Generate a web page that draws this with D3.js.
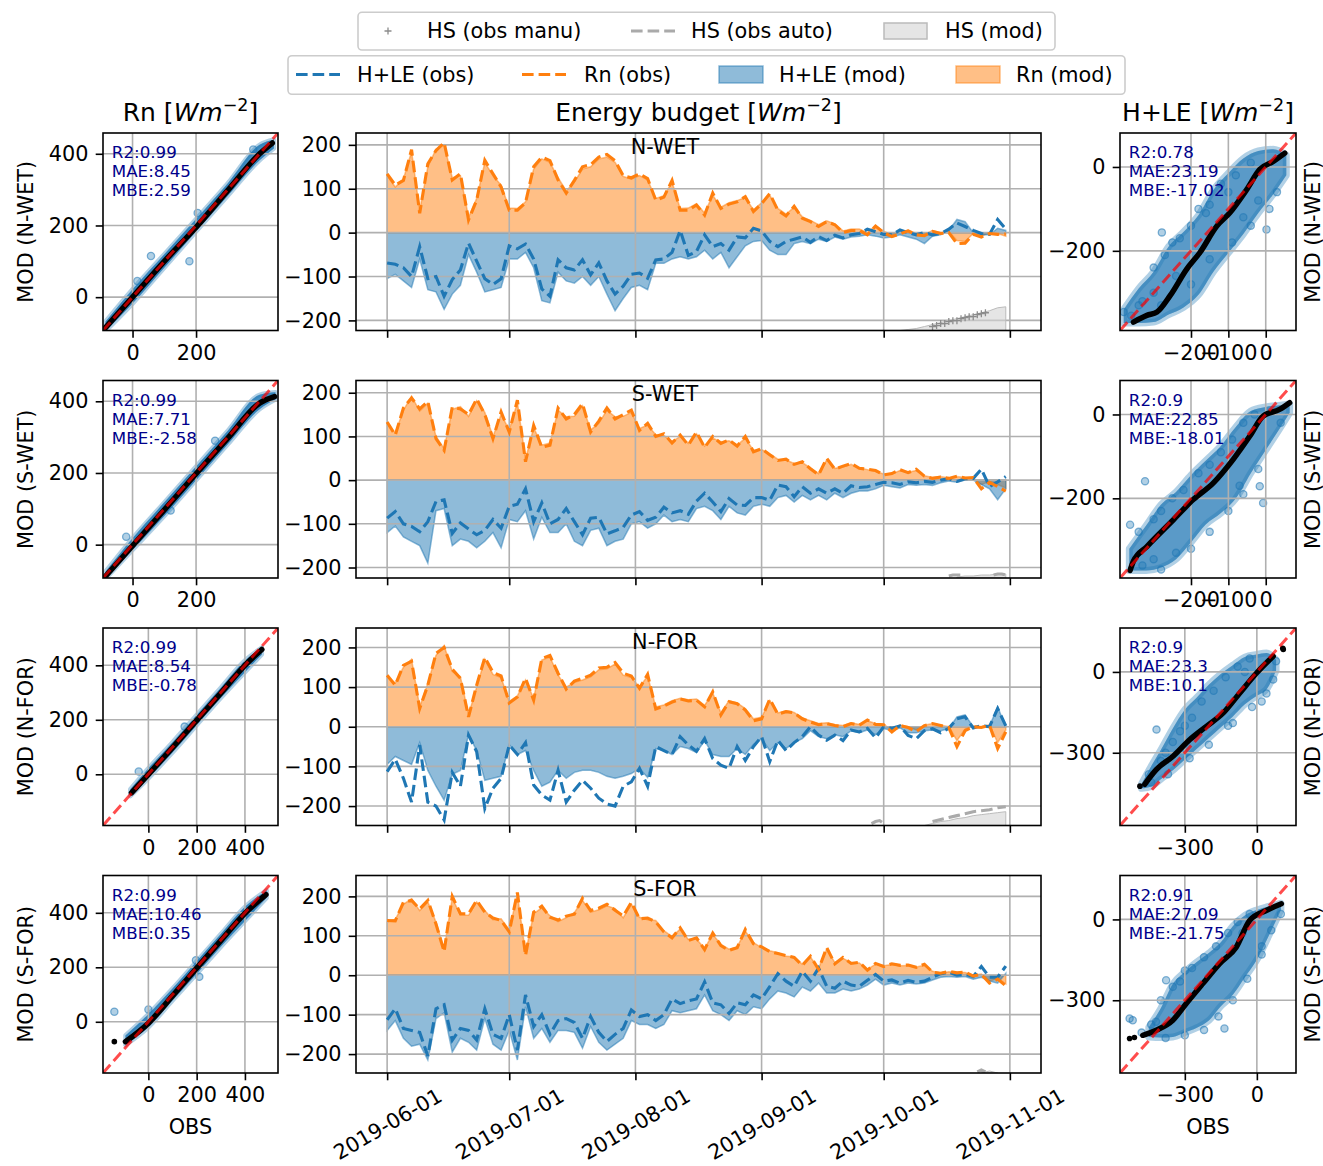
<!DOCTYPE html>
<html>
<head>
<meta charset="utf-8">
<script src="https://cdn.jsdelivr.net/npm/d3@7/dist/d3.min.js"></script>
<style>
html,body{margin:0;padding:0;background:#fff;}
svg{display:block;}
text{font-family:"DejaVu Sans",sans-serif;}
</style>
</head>
<body>
<svg id="chart" width="1323" height="1166" xmlns="http://www.w3.org/2000/svg"></svg>
<script>
// ================= DATA =================
const sites = ["N-WET","S-WET","N-FOR","S-FOR"];
const startDate = "2019-06-01";
const stepDays = 2;
const dateTicks = ["2019-06-01","2019-07-01","2019-08-01","2019-09-01","2019-10-01","2019-11-01"];
const budgetTicks = [-200,-100,0,100,200];
const rnYTicks = [0,200,400];
const rnXTicks = [[0,200],[0,200],[0,200,400],[0,200,400]];
const hleXTicks = [[-200,-100,0],[-200,-100,0],[-300,0],[-300,0]];
const hleYTicks = [[-200,0],[-200,0],[-300,0],[-300,0]];
const legendTop = ["HS (obs manu)","HS (obs auto)","HS (mod)"];
const legendBottom = ["H+LE (obs)","Rn (obs)","H+LE (mod)","Rn (mod)"];

// series (one value every 2 days from 2019-06-01)
const rnObsNW = [134,108,119,189,44,157,187,205,120,134,29,74,165,134,104,51,51,68,150,172,164,120,90,119,150,155,172,178,164,130,125,134,123,74,81,119,51,51,63,40,90,55,65,70,82,48,66,89,51,38,60,33,25,14,25,18,0,5,5,-5,15,0,-9,-3,4,-5,-7,3,-2,0,-25,-24,-4,-10,-2,-4,-3];
const rnModNW = [130,104,122,185,50,150,190,200,125,130,35,78,160,130,108,56,55,70,145,168,160,125,95,115,145,150,168,172,160,128,122,130,120,78,84,115,55,56,66,45,85,58,68,73,80,52,68,85,55,42,58,36,28,18,27,20,4,8,8,0,16,3,-5,0,6,-2,-4,5,0,2,-18,-20,-2,-8,0,-2,-8];
const hleObsNW = [-69,-72,-80,-100,-32,-105,-100,-145,-107,-85,-24,-65,-105,-118,-105,-30,-37,-26,-60,-128,-145,-62,-80,-85,-62,-96,-69,-110,-140,-122,-95,-92,-104,-62,-60,-45,5,-52,-43,-5,-32,-25,-40,-10,-12,10,4,-20,-32,-20,-15,-10,-22,-9,-18,-6,-12,-5,-2,8,2,-4,-5,6,0,-5,0,-5,-2,8,22,14,5,-2,-4,30,8];
const hleModNW = [-105,-95,-110,-125,-60,-130,-135,-175,-140,-120,-50,-90,-135,-130,-125,-60,-60,-45,-80,-155,-160,-90,-110,-115,-100,-120,-100,-140,-178,-150,-125,-120,-130,-70,-70,-60,-55,-60,-55,-40,-60,-45,-80,-55,-30,-20,-18,-40,-50,-50,-25,-20,-25,-15,-20,-10,-15,-10,-8,-5,-8,-12,-10,-5,-10,-15,-25,-8,-5,5,30,25,0,-5,-5,10,5];

const rnObsSW = [133,103,165,188,163,180,95,68,167,163,150,186,150,95,156,110,183,42,125,75,80,165,140,150,175,110,135,165,140,150,160,114,130,100,106,85,103,80,110,75,100,84,92,78,100,65,72,58,45,48,36,42,26,12,50,25,32,38,27,25,22,12,15,24,17,25,9,4,7,4,9,5,6,-20,-5,-15,-25];
const rnModSW = [128,108,160,192,158,176,100,72,162,168,146,182,155,100,150,115,178,48,120,80,85,160,145,146,170,115,130,160,145,146,155,118,126,104,102,88,100,84,106,78,96,88,90,80,96,68,70,60,48,46,38,40,28,15,46,27,30,36,28,24,20,14,14,22,18,22,10,6,8,5,8,6,4,-10,-3,-10,-18];
const hleObsSW = [-87,-72,-100,-106,-118,-95,-49,-45,-122,-98,-112,-125,-115,-90,-110,-60,-55,-20,-95,-52,-100,-90,-65,-95,-125,-87,-85,-123,-116,-108,-80,-72,-92,-85,-62,-75,-70,-78,-48,-30,-50,-72,-42,-57,-58,-40,-40,-46,-11,-15,-38,-15,-30,-20,-30,-20,-30,-13,-17,-15,-10,-5,-6,-10,-4,-6,-3,-5,0,3,-3,3,4,25,-15,-4,8];
const hleModSW = [-120,-105,-130,-140,-150,-190,-70,-65,-150,-135,-140,-155,-140,-120,-155,-90,-95,-70,-135,-85,-120,-120,-100,-140,-150,-115,-110,-150,-140,-135,-100,-95,-110,-100,-80,-95,-90,-95,-65,-60,-70,-90,-60,-75,-80,-60,-55,-60,-40,-35,-50,-35,-45,-35,-45,-30,-40,-30,-25,-25,-20,-12,-15,-18,-10,-12,-10,-12,-6,-2,-5,0,0,-10,-20,-45,-20];

const rnObsNF = [130,105,155,165,46,105,185,200,145,122,25,105,175,137,128,60,75,122,67,172,180,135,95,115,122,130,148,150,162,135,128,97,132,45,52,62,70,65,67,50,88,30,63,58,42,15,20,70,32,38,35,20,12,5,8,3,0,8,4,17,6,5,-13,3,-2,-12,3,8,3,-2,-50,-10,0,-2,4,-55,-13];
const rnModNF = [125,110,150,170,50,110,180,205,140,126,30,100,170,132,124,64,78,118,72,168,176,130,100,112,118,126,144,146,158,130,124,100,128,50,55,66,72,68,70,54,85,35,66,60,46,20,24,66,35,40,36,22,15,8,10,5,3,10,6,15,8,6,-8,5,0,-8,4,8,4,0,-35,-6,2,0,5,-40,-8];
const hleObsNF = [-113,-82,-130,-190,-46,-190,-200,-235,-115,-150,-21,-63,-206,-155,-130,-46,-70,-40,-147,-172,-185,-110,-190,-160,-135,-155,-180,-195,-200,-150,-139,-105,-150,-50,-60,-70,-25,-46,-62,-30,-80,-97,-105,-50,-85,-50,-25,-88,-34,-60,-40,-25,0,-21,-34,-21,-35,-8,-13,-4,-28,0,-4,2,-22,-30,-10,-5,-15,-4,20,25,-3,3,0,46,2];
const hleModNF = [-95,-75,-85,-95,-40,-110,-150,-185,-120,-110,-20,-60,-135,-130,-125,-45,-70,-60,-110,-150,-140,-110,-130,-115,-110,-110,-115,-125,-130,-125,-118,-105,-128,-55,-60,-70,-50,-55,-65,-35,-70,-75,-75,-55,-70,-45,-30,-60,-40,-55,-40,-30,-10,-25,-30,-20,-25,-10,-15,-8,-20,-5,-8,-3,-15,-15,-10,-8,-10,-5,25,30,0,0,2,50,0];

const rnObsSF = [139,138,185,190,168,190,130,60,200,156,156,190,160,145,139,110,210,50,160,175,147,140,150,155,195,164,170,180,165,150,185,143,145,135,110,95,120,88,95,65,107,75,63,70,116,80,72,60,55,50,45,25,48,15,70,29,45,30,33,13,30,22,29,25,26,20,28,8,5,10,6,8,-2,2,-20,-10,-27];
const rnModSF = [135,142,180,194,164,186,135,66,196,152,152,186,164,141,143,115,205,56,156,171,151,136,146,159,190,160,166,176,169,146,180,147,141,139,113,98,117,91,92,68,104,78,66,72,112,83,70,62,57,48,47,28,46,18,66,32,43,32,31,15,28,24,27,24,25,21,25,10,6,9,7,7,0,3,-15,-8,-22];
const hleObsSF = [-113,-85,-135,-140,-145,-205,-85,-75,-165,-135,-140,-164,-85,-150,-160,-100,-190,-50,-130,-100,-150,-115,-110,-120,-160,-105,-145,-168,-150,-135,-88,-105,-100,-115,-100,-60,-72,-65,-60,-17,-70,-75,-97,-70,-75,-50,-60,-29,4,-15,-28,10,-15,18,-28,-33,-15,-25,-28,-13,2,-15,-12,-20,-13,-18,-15,-5,4,8,0,2,-3,22,-5,-5,23];
const hleModSF = [-140,-115,-160,-180,-175,-215,-110,-95,-195,-160,-170,-190,-110,-175,-190,-140,-215,-80,-160,-135,-170,-140,-140,-145,-185,-130,-170,-190,-175,-160,-115,-125,-125,-135,-125,-90,-95,-90,-85,-50,-90,-100,-115,-90,-100,-80,-85,-60,-40,-45,-55,-30,-40,-20,-45,-45,-35,-40,-35,-25,-10,-25,-20,-25,-20,-22,-20,-12,-5,-3,-5,-3,-10,-5,-15,-20,5];

// snow height (cm, hidden twin axis), day offsets from start date
const hsModDaysNW = [126,128,130,132,134,136,138,140,142,144,146,148,150,152];
const hsModNW     = [0,1,2,4,6,8,10,12,14,16,18,20,23,24];
const hsManuDaysNW = [134,135,136,137,138,139,140,141,142,143,144,145,146,147];
const hsManuNW     = [4,5,7,7,9,10,10,12,13,14,14,16,17,18];
const hsAutoDaysNW = [];
const hsAutoNW     = [];
const hsModDaysSW = [140,142,144,146,148,150,152];
const hsModSW     = [1,2,2,3,3,4,4];
const hsAutoDaysSW = [138,139,140,141,142,143,149,150,151,152];
const hsAutoSW     = [2,3,3,3,2,null,3,4,4,3];
const hsManuDaysSW = [];
const hsManuSW     = [];
const hsModDaysNF = [132,134,136,138,140,142,144,146,148,150,152];
const hsModNF     = [0,2,4,5,7,8,10,11,12,13,14];
const hsAutoDaysNF = [119,120,121,122,123,134,136,138,140,142,144,146,148,150,152];
const hsAutoNF     = [2,4,5,2,null,4,6,8,10,12,14,15,16,18,19];
const hsManuDaysNF = [];
const hsManuNF     = [];
const hsModDaysSF = [146,148,150];
const hsModSF     = [0,2,0];
const hsAutoDaysSF = [145,146,147];
const hsAutoSF     = [1,3,1];
const hsManuDaysSF = [];
const hsManuSF     = [];

// scatter: Rn (obs vs mod) – cloud envelope, quantile line, isolated points
const rnEnvXNW = [-85,0,100,200,300,400,445];
const rnEnvLoNW = [-95,-18,82,183,283,382,415];
const rnEnvHiNW = [-68,22,120,218,318,425,440];
const rnQQNW = [[-85,-85],[0,0],[100,100],[200,195],[300,298],[400,400],[440,430]];
const rnOutNW = [[58,115],[179,100],[15,45],[205,235],[380,412]];
const rnLoneNW = [];
const rnEnvXSW = [-85,0,100,200,300,400,450];
const rnEnvLoSW = [-95,-15,80,180,280,378,405];
const rnEnvHiSW = [-75,18,118,218,318,418,425];
const rnQQSW = [[-85,-88],[0,-3],[100,97],[200,198],[300,297],[400,395],[447,413]];
const rnOutSW = [[-20,22],[260,290],[120,95]];
const rnLoneSW = [];
const rnEnvXNF = [-75,0,100,200,300,400,470];
const rnEnvLoNF = [-80,-15,80,180,280,375,440];
const rnEnvHiNF = [-55,22,118,218,318,418,465];
const rnQQNF = [[-70,-68],[0,0],[100,98],[200,198],[300,298],[400,400],[470,458]];
const rnOutNF = [[-40,10],[150,175]];
const rnLoneNF = [];
const rnEnvXSF = [-95,0,100,200,300,400,490];
const rnEnvLoSF = [-85,-20,78,175,275,370,455];
const rnEnvHiSF = [-50,28,122,222,322,422,482];
const rnQQSF = [[-95,-73],[0,-5],[100,95],[200,197],[300,298],[400,398],[487,467]];
const rnOutSF = [[-141,37],[197,226],[211,165],[0,45]];
const rnLoneSF = [[-141,-73]];

// scatter: H+LE
const hleEnvXNW = [-380,-340,-300,-260,-220,-180,-140,-100,-60,-20,20,55];
const hleEnvLoNW = [-372,-372,-370,-352,-335,-305,-250,-205,-160,-110,-65,-20];
const hleEnvHiNW = [-340,-290,-250,-190,-155,-115,-55,-15,20,38,42,28];
const hleQQNW = [[-354,-370],[-318,-354],[-291,-346],[-256,-307],[-211,-243],[-176,-204],[-131,-141],[-96,-109],[-51,-54],[-16,-6],[20,13],[51,33]];
const hleOutNW = [[-380,-346],[-278,-156],[2,-149],[-240,-260],[-150,-90],[-60,-120],[-330,-320],[-20,-80],[-300,-240],[-270,-210],[-250,-180],[-230,-170],[-200,-140],[-180,-100],[-160,-110],[-120,-40],[-100,-60],[-80,-20],[-40,10],[10,-100],[30,-60],[-300,-300],[-340,-330],[-360,-355],[-280,-330],[-200,-280],[-150,-220],[-90,-180],[-40,-140]];
const hleLoneNW = [];
const hleEnvXSW = [-365,-320,-280,-240,-200,-160,-120,-80,-40,0,40,64];
const hleEnvLoSW = [-372,-372,-365,-345,-305,-262,-235,-200,-140,-85,-30,4];
const hleEnvHiSW = [-320,-265,-215,-185,-145,-110,-75,-30,8,18,22,25];
const hleQQSW = [[-363,-372],[-354,-350],[-318,-315],[-247,-251],[-194,-203],[-140,-163],[-87,-107],[-43,-52],[-7,-4],[37,12],[64,28]];
const hleOutSW = [[-363,-263],[-323,-159],[-16,-171],[-7,-211],[-240,-330],[-300,-345],[-100,-230],[-70,-170],[-340,-280],[-300,-250],[-280,-230],[-250,-200],[-220,-180],[-180,-140],[-150,-120],[-120,-90],[-90,-60],[-60,-20],[-30,0],[-330,-360],[-280,-370],[-200,-320],[-150,-280],[-60,-190],[-20,-130],[40,-20]];
const hleLoneSW = [];
const hleEnvXNF = [-480,-440,-400,-350,-300,-250,-200,-150,-100,-50,0,40,80];
const hleEnvLoNF = [-432,-425,-398,-365,-325,-285,-245,-205,-165,-120,-88,-65,5];
const hleEnvHiNF = [-415,-350,-290,-210,-140,-95,-48,-8,25,55,65,70,45];
const hleQQNF = [[-467,-417],[-418,-362],[-349,-313],[-279,-251],[-210,-202],[-140,-152],[-71,-78],[-1,-4],[68,58]];
const hleOutNF = [[-418,-214],[68,-28],[-300,-200],[-120,-200],[-50,0],[-380,-300],[20,-110],[-450,-380],[-400,-330],[-350,-260],[-320,-220],[-270,-170],[-230,-110],[-180,-70],[-130,-20],[-80,20],[-30,50],[-440,-410],[-370,-380],[-280,-320],[-200,-270],[-100,-190],[-20,-130],[40,-80],[80,40]];
const hleLoneNF = [[-487,-424],[110,83],[108,88]];
const hleEnvXSF = [-450,-400,-350,-300,-250,-200,-150,-100,-50,0,50,100];
const hleEnvLoSF = [-436,-438,-436,-420,-402,-375,-322,-280,-215,-150,-60,35];
const hleEnvHiSF = [-400,-330,-240,-195,-158,-125,-85,-25,15,35,48,60];
const hleQQSF = [[-475,-430],[-419,-411],[-350,-374],[-294,-312],[-225,-238],[-155,-164],[-86,-103],[-30,-4],[39,33],[102,58]];
const hleOutSF = [[-530,-368],[-517,-374],[-378,-226],[-135,-405],[-300,-190],[-60,-50],[20,-100],[-420,-380],[-480,-420],[-440,-390],[-400,-300],[-350,-250],[-320,-230],[-270,-180],[-220,-140],[-170,-100],[-120,-50],[-80,-10],[-30,20],[-380,-440],[-300,-430],[-220,-410],[-160,-360],[-100,-300],[-40,-220],[20,-130],[60,-40],[100,20]];
const hleLoneSF = [[-530,-442],[-510,-438]];

const rnStats = [["R2:0.99","MAE:8.45","MBE:2.59"],["R2:0.99","MAE:7.71","MBE:-2.58"],["R2:0.99","MAE:8.54","MBE:-0.78"],["R2:0.99","MAE:10.46","MBE:0.35"]];
const hleStats = [["R2:0.78","MAE:23.19","MBE:-17.02"],["R2:0.9","MAE:22.85","MBE:-18.01"],["R2:0.9","MAE:23.3","MBE:10.1"],["R2:0.91","MAE:27.09","MBE:-21.75"]];

// axis limits
const budgetLims = [[-223,227],[-224,228],[-249,249],[-248,253]];
const rnLims = [[-93,458],[-93,458],[-188,537],[-188,537]];
const hleLims = [[-390,81],[-390,81],[-570,163],[-570,163]];
const hsLim = [0,200];

// ================= BUILD TABLES =================
const seriesTable = [
  {rnObs:rnObsNW, rnMod:rnModNW, hleObs:hleObsNW, hleMod:hleModNW, hsModDays:hsModDaysNW, hsMod:hsModNW, hsAutoDays:hsAutoDaysNW, hsAuto:hsAutoNW, hsManuDays:hsManuDaysNW, hsManu:hsManuNW},
  {rnObs:rnObsSW, rnMod:rnModSW, hleObs:hleObsSW, hleMod:hleModSW, hsModDays:hsModDaysSW, hsMod:hsModSW, hsAutoDays:hsAutoDaysSW, hsAuto:hsAutoSW, hsManuDays:hsManuDaysSW, hsManu:hsManuSW},
  {rnObs:rnObsNF, rnMod:rnModNF, hleObs:hleObsNF, hleMod:hleModNF, hsModDays:hsModDaysNF, hsMod:hsModNF, hsAutoDays:hsAutoDaysNF, hsAuto:hsAutoNF, hsManuDays:hsManuDaysNF, hsManu:hsManuNF},
  {rnObs:rnObsSF, rnMod:rnModSF, hleObs:hleObsSF, hleMod:hleModSF, hsModDays:hsModDaysSF, hsMod:hsModSF, hsAutoDays:hsAutoDaysSF, hsAuto:hsAutoSF, hsManuDays:hsManuDaysSF, hsManu:hsManuSF}
];
const rnScat = [
  {x:rnEnvXNW, lo:rnEnvLoNW, hi:rnEnvHiNW, qq:rnQQNW, out:rnOutNW, lone:rnLoneNW},
  {x:rnEnvXSW, lo:rnEnvLoSW, hi:rnEnvHiSW, qq:rnQQSW, out:rnOutSW, lone:rnLoneSW},
  {x:rnEnvXNF, lo:rnEnvLoNF, hi:rnEnvHiNF, qq:rnQQNF, out:rnOutNF, lone:rnLoneNF},
  {x:rnEnvXSF, lo:rnEnvLoSF, hi:rnEnvHiSF, qq:rnQQSF, out:rnOutSF, lone:rnLoneSF}
];
const hleScat = [
  {x:hleEnvXNW, lo:hleEnvLoNW, hi:hleEnvHiNW, qq:hleQQNW, out:hleOutNW, lone:hleLoneNW},
  {x:hleEnvXSW, lo:hleEnvLoSW, hi:hleEnvHiSW, qq:hleQQSW, out:hleOutSW, lone:hleLoneSW},
  {x:hleEnvXNF, lo:hleEnvLoNF, hi:hleEnvHiNF, qq:hleQQNF, out:hleOutNF, lone:hleLoneNF},
  {x:hleEnvXSF, lo:hleEnvLoSF, hi:hleEnvHiSF, qq:hleQQSF, out:hleOutSF, lone:hleLoneSF}
];

// ================= LAYOUT / STYLE =================
const FS = 20.8, FS_STAT = 16.7, FS_TITLE = 25;
const BLUE = "#1f77b4", ORANGE = "#ff7f0e", GRID = "#b0b0b0";
const rowTop = [133, 380.5, 628, 875.5], rowH = 197.5;
const colL = {x:103, w:175}, colM = {x:356, w:685}, colR = {x:1120, w:176};
const TICK = 7.3, PAD = 7.3, LW = 1.6;

const svg = d3.select("#chart");
const defs = svg.append("defs");
const parseUTC = s => { const [y,m,d] = s.split("-").map(Number); return new Date(Date.UTC(y,m-1,d)); };
const t0 = parseUTC(startDate);
const dayDate = d => new Date(t0.getTime() + d*86400000);
const tickDates = dateTicks.map(parseUTC);
const span = (tickDates[tickDates.length-1] - t0)/86400000;

function styleAxis(sel){
  sel.attr("font-size", FS).attr("font-family", "DejaVu Sans, sans-serif");
  sel.select(".domain").remove();
  sel.selectAll(".tick line").attr("stroke","#000").attr("stroke-width", LW);
  sel.selectAll(".tick text").attr("fill","#000");
}
function clip(id, x, y, w, h){
  defs.append("clipPath").attr("id", id).append("rect").attr("x",x).attr("y",y).attr("width",w).attr("height",h);
  return `url(#${id})`;
}
function grid(g, xs, ys, xt, yt, L, R, T, B){
  g.selectAll(null).data(xt).enter().append("line")
    .attr("x1", d=>xs(d)).attr("x2", d=>xs(d)).attr("y1", T).attr("y2", B)
    .attr("stroke", GRID).attr("stroke-width", LW);
  g.selectAll(null).data(yt).enter().append("line")
    .attr("y1", d=>ys(d)).attr("y2", d=>ys(d)).attr("x1", L).attr("x2", R)
    .attr("stroke", GRID).attr("stroke-width", LW);
}

// ---------- middle: energy budget ----------
function drawMiddle(i){
  const S = seriesTable[i];
  const T = rowTop[i], B = T + rowH, L = colM.x, R = colM.x + colM.w;
  const pad = span*0.05;
  const x = d3.scaleUtc().domain([dayDate(-pad), dayDate(span+pad)]).range([L, R]);
  const y = d3.scaleLinear().domain(budgetLims[i]).range([B, T]);
  const hs = d3.scaleLinear().domain(hsLim).range([B, T]);
  const g = svg.append("g");
  const pg = g.append("g").attr("clip-path", clip("cm"+i, L, T, R-L, rowH));
  const xk = k => x(dayDate(k*stepDays));
  const area = d3.area().x((v,k)=>xk(k)).y0(y(0)).y1(v=>y(v));
  pg.append("path").datum(S.rnMod).attr("d", area)
    .attr("fill", ORANGE).attr("fill-opacity", 0.5).attr("stroke", ORANGE).attr("stroke-opacity", 0.5).attr("stroke-width", 1.5);
  pg.append("path").datum(S.hleMod).attr("d", area)
    .attr("fill", BLUE).attr("fill-opacity", 0.5).attr("stroke", BLUE).attr("stroke-opacity", 0.5).attr("stroke-width", 1.5);
  grid(pg, x, y, tickDates, budgetTicks, L, R, T, B);
  const hsModPts = S.hsModDays.map((d,j)=>[d, S.hsMod[j]]);
  if (hsModPts.length) {
    pg.append("path").datum(hsModPts)
      .attr("d", d3.area().x(d=>x(dayDate(d[0]))).y0(hs(0)).y1(d=>hs(d[1])))
      .attr("fill", "#d3d3d3").attr("fill-opacity", 0.6).attr("stroke", "#bbbbbb").attr("stroke-width", 1);
  }
  const hsAutoPts = S.hsAutoDays.map((d,j)=>[d, S.hsAuto[j]]);
  if (hsAutoPts.length) {
    pg.append("path").datum(hsAutoPts)
      .attr("d", d3.line().defined(d=>d[1]!=null).x(d=>x(dayDate(d[0]))).y(d=>hs(d[1])))
      .attr("fill","none").attr("stroke","#aaaaaa").attr("stroke-width",3.1).attr("stroke-dasharray","11.6,5");
  }
  const hsManuPts = S.hsManuDays.map((d,j)=>[d, S.hsManu[j]]);
  pg.selectAll(null).data(hsManuPts).enter().append("path")
    .attr("d", d=>{const px=x(dayDate(d[0])), py=hs(d[1]); return `M${px-3.5},${py}h7M${px},${py-3.5}v7`;})
    .attr("stroke","#8c8c8c").attr("stroke-width",1.3);
  const line = d3.line().x((v,k)=>xk(k)).y(v=>y(v));
  pg.append("path").datum(S.hleObs).attr("d", line)
    .attr("fill","none").attr("stroke", BLUE).attr("stroke-width",3.1).attr("stroke-dasharray","11.6,5");
  pg.append("path").datum(S.rnObs).attr("d", line)
    .attr("fill","none").attr("stroke", ORANGE).attr("stroke-width",3.1).attr("stroke-dasharray","11.6,5");
  const ay = g.append("g").attr("transform",`translate(${L},0)`)
    .call(d3.axisLeft(y).tickValues(budgetTicks).tickSize(TICK).tickPadding(PAD));
  styleAxis(ay);
  const ax = g.append("g").attr("transform",`translate(0,${B})`)
    .call(d3.axisBottom(x).tickValues(tickDates).tickSize(TICK).tickPadding(PAD).tickFormat(i===3 ? d3.utcFormat("%Y-%m-%d") : ""));
  styleAxis(ax);
  if (i===3) {
    ax.selectAll(".tick text").attr("y",0).attr("dy","0.35em").attr("text-anchor","middle")
      .attr("transform","translate(0,51) rotate(-30)");
  }
  g.append("rect").attr("x",L).attr("y",T).attr("width",R-L).attr("height",rowH)
    .attr("fill","none").attr("stroke","#000").attr("stroke-width",LW);
  g.append("text").attr("x", 665).attr("y", T+20.5).attr("text-anchor","middle")
    .attr("font-size", FS).text(sites[i]);
}

// ---------- scatter ----------
function drawScatter(i, col, lim, xt, yt, data, stats, side, showObs){
  const T = rowTop[i], B = T + rowH, L = col.x, R = col.x + col.w;
  const x = d3.scaleLinear().domain(lim).range([L, R]);
  const y = d3.scaleLinear().domain(lim).range([B, T]);
  const g = svg.append("g");
  const pg = g.append("g").attr("clip-path", clip("cs"+side+i, L, T, R-L, rowH));
  const env = data.x.map((v,j)=>[v, data.lo[j], data.hi[j]]);
  const area = d3.area().x(d=>x(d[0])).y0(d=>y(d[1])).y1(d=>y(d[2])).curve(d3.curveMonotoneX);
  const halo = side==="L" ? 4.5 : 7, core = side==="L" ? 0.75 : 0.6;
  pg.append("path").datum(env).attr("d", area)
    .attr("fill", BLUE).attr("fill-opacity", 0.35).attr("stroke", BLUE).attr("stroke-opacity", 0.35)
    .attr("stroke-width", halo).attr("stroke-linejoin","round");
  pg.append("path").datum(env).attr("d", area)
    .attr("fill", BLUE).attr("fill-opacity", core);
  pg.selectAll(null).data(data.out).enter().append("circle")
    .attr("cx", d=>x(d[0])).attr("cy", d=>y(d[1])).attr("r", 3.6)
    .attr("fill", BLUE).attr("fill-opacity", 0.35).attr("stroke", BLUE).attr("stroke-opacity", 0.55).attr("stroke-width", 1.3);
  grid(pg, x, y, xt, yt, L, R, T, B);
  pg.append("path").datum(data.qq)
    .attr("d", d3.line().x(d=>x(d[0])).y(d=>y(d[1])).curve(d3.curveMonotoneX))
    .attr("fill","none").attr("stroke","#000").attr("stroke-width",5.5)
    .attr("stroke-linecap","round").attr("stroke-linejoin","round");
  pg.selectAll(null).data(data.lone).enter().append("circle")
    .attr("cx", d=>x(d[0])).attr("cy", d=>y(d[1])).attr("r", 2.8).attr("fill","#000");
  pg.append("line").attr("x1", x(lim[0])).attr("y1", y(lim[0])).attr("x2", x(lim[1])).attr("y2", y(lim[1]))
    .attr("stroke","#ff0000").attr("stroke-opacity",0.7).attr("stroke-width",3).attr("stroke-dasharray","11,5");
  const ay = g.append("g").attr("transform",`translate(${L},0)`)
    .call(d3.axisLeft(y).tickValues(yt).tickSize(TICK).tickPadding(PAD));
  styleAxis(ay);
  const ax = g.append("g").attr("transform",`translate(0,${B})`)
    .call(d3.axisBottom(x).tickValues(xt).tickSize(TICK).tickPadding(PAD));
  styleAxis(ax);
  g.append("rect").attr("x",L).attr("y",T).attr("width",R-L).attr("height",rowH)
    .attr("fill","none").attr("stroke","#000").attr("stroke-width",LW);
  const st = g.append("text").attr("x", L+8.8).attr("y", T+25).attr("font-size", FS_STAT).attr("fill","#00008b");
  stats.forEach((s,j)=> st.append("tspan").attr("x", L+8.8).attr("dy", j===0?0:19.2).text(s));
  const lx = side==="L" ? 25.5 : 1312.5, ly = T + rowH/2;
  g.append("text").attr("transform",`translate(${lx},${ly}) rotate(-90)`).attr("text-anchor","middle")
    .attr("dominant-baseline","central").attr("font-size", FS).text(`MOD (${sites[i]})`);
  if (showObs) {
    g.append("text").attr("x",(L+R)/2).attr("y",1127).attr("text-anchor","middle")
      .attr("dominant-baseline","central").attr("font-size",FS).text("OBS");
  }
}

for (let i=0;i<4;i++){
  drawScatter(i, colL, rnLims[i], rnXTicks[i], rnYTicks, rnScat[i], rnStats[i], "L", i===3);
  drawMiddle(i);
  drawScatter(i, colR, hleLims[i], hleXTicks[i], hleYTicks[i], hleScat[i], hleStats[i], "R", i===3);
}

// ---------- column titles ----------
function unitTitle(xc, prefix){
  const t = svg.append("text").attr("x", xc).attr("y", 121).attr("text-anchor","middle").attr("font-size", FS_TITLE);
  t.append("tspan").text(prefix + " [");
  t.append("tspan").attr("font-style","italic").text("Wm");
  t.append("tspan").attr("font-size", 17.5).attr("dy", -10).text("−2");
  t.append("tspan").attr("dy", 10).text("]");
}
unitTitle(colL.x + colL.w/2, "Rn");
unitTitle(colM.x + colM.w/2, "Energy budget");
unitTitle(colR.x + colR.w/2, "H+LE");

// ---------- legends ----------
function legendBox(x, y, w, h){
  svg.append("rect").attr("x",x).attr("y",y).attr("width",w).attr("height",h).attr("rx",4)
    .attr("fill","#fff").attr("fill-opacity",0.8).attr("stroke","#cccccc").attr("stroke-width",1.6);
}
legendBox(358, 12.3, 697, 37.7);
const l1 = [{hx:388, tx:427}, {hx:631, tx:691}, {hx:884, tx:945}];
const cy1 = 31;
svg.append("path").attr("d", `M${l1[0].hx-3.5},${cy1}h7M${l1[0].hx},${cy1-3.5}v7`).attr("stroke","#8c8c8c").attr("stroke-width",1.3);
svg.append("line").attr("x1", l1[1].hx).attr("x2", l1[1].hx+44).attr("y1",cy1).attr("y2",cy1)
  .attr("stroke","#aaaaaa").attr("stroke-width",3.1).attr("stroke-dasharray","11.6,5");
svg.append("rect").attr("x", l1[2].hx).attr("y", cy1-8).attr("width",43).attr("height",16)
  .attr("fill","#d3d3d3").attr("fill-opacity",0.6).attr("stroke","#bbbbbb").attr("stroke-width",1.5);
legendTop.forEach((s,j)=> svg.append("text").attr("x", l1[j].tx).attr("y", cy1).attr("dominant-baseline","central")
  .attr("font-size", FS).text(s));

legendBox(288, 55.7, 837, 38.6);
const l2 = [{hx:296, tx:357, c:BLUE, k:"line"}, {hx:522, tx:584, c:ORANGE, k:"line"}, {hx:719, tx:779, c:BLUE, k:"patch"}, {hx:956, tx:1016, c:ORANGE, k:"patch"}];
const cy2 = 74.5;
l2.forEach((e,j)=>{
  if (e.k==="line") {
    svg.append("line").attr("x1", e.hx).attr("x2", e.hx+44).attr("y1", cy2).attr("y2", cy2)
      .attr("stroke", e.c).attr("stroke-width",3.1).attr("stroke-dasharray","11.6,5");
  } else {
    svg.append("rect").attr("x", e.hx).attr("y", cy2-8.5).attr("width",44).attr("height",17)
      .attr("fill", e.c).attr("fill-opacity",0.5).attr("stroke", e.c).attr("stroke-opacity",0.5).attr("stroke-width",1.5);
  }
  svg.append("text").attr("x", e.tx).attr("y", cy2).attr("dominant-baseline","central").attr("font-size", FS).text(legendBottom[j]);
});
</script>
</body>
</html>
